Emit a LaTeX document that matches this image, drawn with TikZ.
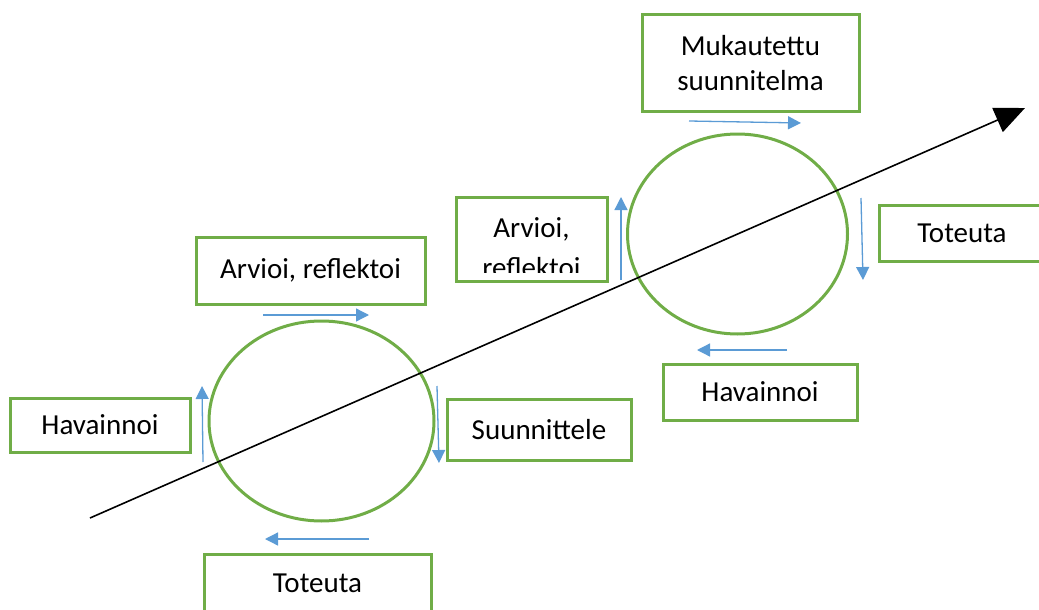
\documentclass[tikz,border=0pt]{standalone}
\usepackage{fontspec}
\setmainfont{Carlito}
\usetikzlibrary{arrows.meta}
\definecolor{boxgreen}{HTML}{70AD47}
\definecolor{arrowblue}{HTML}{5B9BD5}
\tikzset{
  gbox/.style={draw=boxgreen, line width=3pt, rectangle, inner sep=0pt, font=\fontsize{29}{35}\selectfont, align=center},
  txt/.style={inner sep=0pt, font=\fontsize{29}{35}\selectfont},
  cyc/.style={draw=boxgreen, line width=3pt},
  barrow/.style={draw=arrowblue, line width=1.3pt, -{Triangle[length=13pt,width=13pt]}},
  karrow/.style={draw=black, line width=1.6pt, -{Triangle[length=30pt,width=26pt]}},
}
\begin{document}
\begin{tikzpicture}[x=1pt,y=-1pt]
\useasboundingbox (0,0) rectangle (1039,610);
\clip (0,0) rectangle (1039,610);
% cycle 1
\draw[cyc] (321.5,421) ellipse [x radius=112.5, y radius=100];
\node[gbox, minimum width=229pt, minimum height=67pt] (ar1) at (310.5,270.5) {Arvioi, reflektoi};
\node[gbox, minimum width=180pt, minimum height=54pt] (hav1) at (100,425) {Havainnoi};
\node[gbox, minimum width=184pt, minimum height=61pt] (suu) at (539,429.5) {Suunnittele};
\node[gbox, minimum width=227pt, minimum height=58pt] (tot1) at (317.5,583) {Toteuta};
% cycle 2
\draw[cyc] (737.5,234) ellipse [x radius=110, y radius=100];
\node[gbox, minimum width=217pt, minimum height=97pt] (muk) at (750.5,63) {Mukautettu\\suunnitelma};
\node[gbox, minimum width=166pt, minimum height=56pt] (tot2) at (962,233) {Toteuta};
\node[gbox, minimum width=194pt, minimum height=56pt] (hav2) at (760,392) {Havainnoi};
\node[gbox, minimum width=151pt, minimum height=84pt] (ar2) at (531.5,239) {};
\begin{scope}
\clip (458,199) rectangle (605,272);
\node[txt, anchor=base] (ar2a) at (531.5,237) {Arvioi,};
\node[txt, anchor=base] (ar2b) at (531.5,277) {reflektoi};
\end{scope}
% blue arrows, cycle 1
\coordinate (b1s) at (263,315); \coordinate (b1e) at (369,315);
\coordinate (b2s) at (437,386); \coordinate (b2e) at (439,463);
\coordinate (b3s) at (369,539); \coordinate (b3e) at (265,539);
\coordinate (b4s) at (203,462); \coordinate (b4e) at (202,386);
\draw[barrow] (b1s) -- (b1e);
\draw[barrow] (b2s) -- (b2e);
\draw[barrow] (b3s) -- (b3e);
\draw[barrow] (b4s) -- (b4e);
% blue arrows, cycle 2
\coordinate (c1s) at (689,121); \coordinate (c1e) at (801,123);
\coordinate (c2s) at (861,198); \coordinate (c2e) at (863,280);
\coordinate (c3s) at (787,350); \coordinate (c3e) at (697,350);
\coordinate (c4s) at (621,280); \coordinate (c4e) at (621,197);
\draw[barrow] (c1s) -- (c1e);
\draw[barrow] (c2s) -- (c2e);
\draw[barrow] (c3s) -- (c3e);
\draw[barrow] (c4s) -- (c4e);
% black arrow
\coordinate (ks) at (90,518);
\coordinate (ke) at (1025,108);
\draw[karrow] (ks) -- (ke);
\end{tikzpicture}
\end{document}
